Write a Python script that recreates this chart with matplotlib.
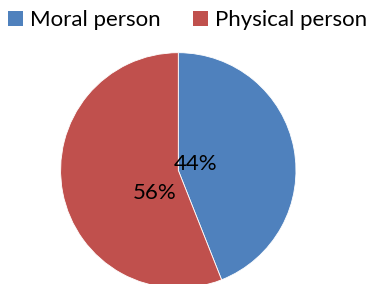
import matplotlib.pyplot as plt
from matplotlib.patches import Patch

categories = ["Moral person", "Physical person"]
shares = [44, 56]
colors = ["#4F81BD", "#C0504D"]

plt.rcParams["font.family"] = ["Lato", "DejaVu Sans"]

fig = plt.figure(figsize=(3.73, 2.84), dpi=100)
ax = fig.add_axes([0.1625, -0.0144, 0.631, 0.829])

wedges, texts, autotexts = ax.pie(
    shares, colors=colors, startangle=90, counterclock=False,
    autopct="%d%%", wedgeprops=dict(edgecolor="white", linewidth=0.6),
    textprops=dict(fontsize=16, color="black"),
)
# label spots as Excel placed them
autotexts[0].set_position((0.15, 0.05))
autotexts[1].set_position((-0.20, -0.19))
ax.set_xlim(-1, 1)
ax.set_ylim(-1, 1)
ax.axis("off")

handles = [Patch(facecolor=c, edgecolor="none") for c in colors]
fig.legend(handles, categories, loc="upper left", bbox_to_anchor=(-0.015, 1.01),
           ncol=2, frameon=False, fontsize=16, handlelength=0.7, handleheight=0.7,
           handletextpad=0.3, columnspacing=1.45, borderaxespad=0.2)

fig.savefig("out.png", dpi=100)
